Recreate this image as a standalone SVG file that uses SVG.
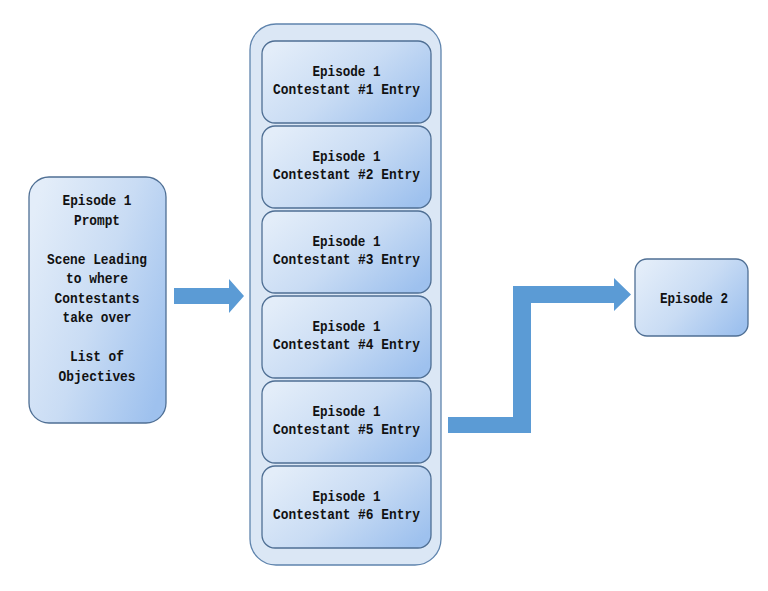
<svg xmlns="http://www.w3.org/2000/svg" width="768" height="591" viewBox="0 0 768 591">
<defs>
<linearGradient id="g" x1="0" y1="0.2" x2="1" y2="0.8">
<stop offset="0" stop-color="#e3edf9"/>
<stop offset="0.5" stop-color="#c9dcf4"/>
<stop offset="1" stop-color="#9ec1ee"/>
</linearGradient>
<style>
.box{fill:url(#g);stroke:#4f6f94;stroke-width:1.3}
.cont{fill:#dbe7f5;stroke:#5f84ad;stroke-width:1.3}
.t{font-family:"Liberation Mono","DejaVu Sans Mono",monospace;font-weight:bold;font-size:14.5px;fill:#111;text-anchor:middle}
.arr{fill:#5b9bd5}
</style>
</defs>
<rect width="768" height="591" fill="#fff"/>
<g id="connectors">
<polygon class="arr" points="174,288 229,288 229,279 244,296 229,313 229,304 174,304"/>
<polygon class="arr" points="448,417 513,417 513,286 614,286 614,278 631,294.5 614,311 614,303 531,303 531,433 448,433"/>
</g>
<g id="prompt">
<rect class="box" x="29" y="177" width="137" height="246" rx="20"/>
<text class="t" lengthAdjust="spacingAndGlyphs"><tspan x="97" y="205" textLength="69" lengthAdjust="spacingAndGlyphs">Episode 1</tspan><tspan x="97" y="224.5" textLength="46" lengthAdjust="spacingAndGlyphs">Prompt</tspan><tspan x="97" y="263.5" textLength="100" lengthAdjust="spacingAndGlyphs">Scene Leading</tspan><tspan x="97" y="283" textLength="62" lengthAdjust="spacingAndGlyphs">to where</tspan><tspan x="97" y="302.5" textLength="85" lengthAdjust="spacingAndGlyphs">Contestants</tspan><tspan x="97" y="322" textLength="69" lengthAdjust="spacingAndGlyphs">take over</tspan><tspan x="97" y="361" textLength="54" lengthAdjust="spacingAndGlyphs">List of</tspan><tspan x="97" y="380.5" textLength="77" lengthAdjust="spacingAndGlyphs">Objectives</tspan></text>
</g>
<g id="container">
<rect class="cont" x="250" y="24" width="191" height="541" rx="26"/>
</g>
<g id="entry1">
<rect class="box" x="262" y="41" width="169" height="82" rx="13"/>
<text class="t"><tspan x="346.5" y="75.5" textLength="68" lengthAdjust="spacingAndGlyphs">Episode 1</tspan><tspan x="346.5" y="94" textLength="147" lengthAdjust="spacingAndGlyphs">Contestant #1 Entry</tspan></text>
</g>
<g id="entry2">
<rect class="box" x="262" y="126" width="169" height="82" rx="13"/>
<text class="t"><tspan x="346.5" y="160.5" textLength="68" lengthAdjust="spacingAndGlyphs">Episode 1</tspan><tspan x="346.5" y="179" textLength="147" lengthAdjust="spacingAndGlyphs">Contestant #2 Entry</tspan></text>
</g>
<g id="entry3">
<rect class="box" x="262" y="211" width="169" height="82" rx="13"/>
<text class="t"><tspan x="346.5" y="245.5" textLength="68" lengthAdjust="spacingAndGlyphs">Episode 1</tspan><tspan x="346.5" y="264" textLength="147" lengthAdjust="spacingAndGlyphs">Contestant #3 Entry</tspan></text>
</g>
<g id="entry4">
<rect class="box" x="262" y="296" width="169" height="82" rx="13"/>
<text class="t"><tspan x="346.5" y="330.5" textLength="68" lengthAdjust="spacingAndGlyphs">Episode 1</tspan><tspan x="346.5" y="349" textLength="147" lengthAdjust="spacingAndGlyphs">Contestant #4 Entry</tspan></text>
</g>
<g id="entry5">
<rect class="box" x="262" y="381" width="169" height="82" rx="13"/>
<text class="t"><tspan x="346.5" y="415.5" textLength="68" lengthAdjust="spacingAndGlyphs">Episode 1</tspan><tspan x="346.5" y="434" textLength="147" lengthAdjust="spacingAndGlyphs">Contestant #5 Entry</tspan></text>
</g>
<g id="entry6">
<rect class="box" x="262" y="466" width="169" height="82" rx="13"/>
<text class="t"><tspan x="346.5" y="500.5" textLength="68" lengthAdjust="spacingAndGlyphs">Episode 1</tspan><tspan x="346.5" y="519" textLength="147" lengthAdjust="spacingAndGlyphs">Contestant #6 Entry</tspan></text>
</g>
<g id="episode2">
<rect class="box" x="635" y="259" width="113" height="77" rx="12"/>
<text class="t" x="694" y="302.5" textLength="68" lengthAdjust="spacingAndGlyphs">Episode 2</text>
</g>
</svg>
